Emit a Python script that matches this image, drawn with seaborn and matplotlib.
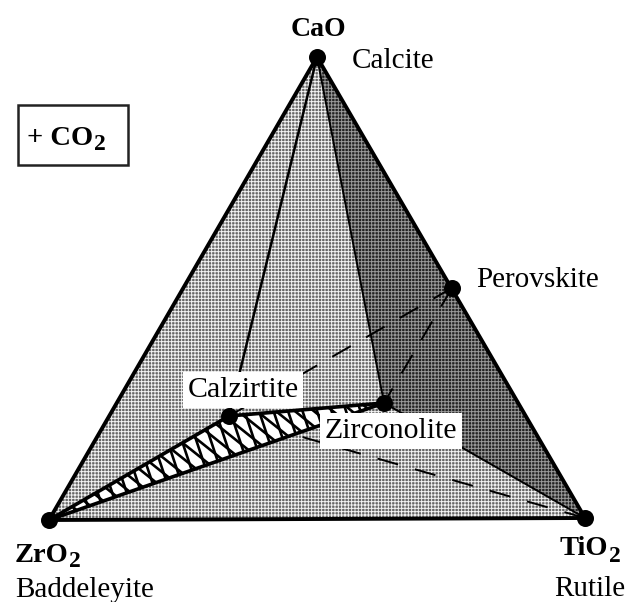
import matplotlib
matplotlib.use("Agg")
import matplotlib.pyplot as plt
from matplotlib.patches import Polygon, Rectangle
import seaborn as sns
import numpy as np
import pandas as pd

# phases, positions in pixels
phases = ["CaO", "ZrO2", "TiO2", "Perovskite", "Calzirtite", "Zirconolite"]
phase_x = [317, 49, 585, 452, 229, 384]
phase_y = [57, 520, 518, 288, 416, 403]

outer_lines = [("CaO", "ZrO2"), ("CaO", "TiO2"), ("ZrO2", "TiO2")]
inner_lines = [("CaO", "Zirconolite"), ("Zirconolite", "TiO2")]
thin_lines = [("CaO", "Calzirtite")]
dashed_lines = [("Perovskite", "Calzirtite"), ("Perovskite", "Zirconolite"), ("TiO2", "Calzirtite")]
tie_lines = [("ZrO2", "Calzirtite"), ("Calzirtite", "Zirconolite"), ("ZrO2", "Zirconolite")]

light_face = ["CaO", "ZrO2", "TiO2"]
dark_face = ["CaO", "Zirconolite", "TiO2"]
hatched_face = ["ZrO2", "Calzirtite", "Zirconolite"]

df = pd.DataFrame({"phase": phases, "x": phase_x, "y": phase_y})
pos = dict(zip(phases, zip(phase_x, phase_y)))


def face(ax, names, **kw):
    ax.fill([pos[n][0] for n in names], [pos[n][1] for n in names], linewidth=0, **kw)


def edges(ax, pairs, **kw):
    for a, b in pairs:
        seg = pd.DataFrame({"x": [pos[a][0], pos[b][0]], "y": [pos[a][1], pos[b][1]]})
        sns.lineplot(data=seg, x="x", y="y", ax=ax, sort=False, estimator=None, color="black", **kw)


def hatch_lines(ax, names, slope, step, **kw):
    # parallel lines clipped to the face, matplotlib hatches cannot take these angles
    clip = Polygon([pos[n] for n in names], closed=True, transform=ax.transData, fill=False, linewidth=0)
    ax.add_patch(clip)
    for x0 in np.arange(-300, 700, step):
        ln, = ax.plot([x0, x0 + 600], [300, 300 + 600 * slope], color="black", **kw)
        ln.set_clip_path(clip)


def formula(ax, x, y, name, x_sub, dy_sub=5, size=20.5, **kw):
    ax.text(x, y, name, fontsize=size, fontweight="bold", ha="left", va="baseline", **kw)
    ax.text(x_sub, y + dy_sub, "2", fontsize=17, fontweight="bold", ha="left", va="baseline", **kw)


sns.set_theme(style="white")
plt.rcParams["font.family"] = ["Liberation Serif", "DejaVu Serif"]
plt.rcParams["text.color"] = "black"

fig = plt.figure(figsize=(6.28, 6.02), dpi=100)
ax = fig.add_axes([0, 0, 1, 1])

plt.rcParams["hatch.linewidth"] = 0.7
face(ax, light_face, facecolor="#666666", edgecolor="#f2f2f2", hatch="+++++", zorder=1)
face(ax, dark_face, facecolor="#222222", edgecolor="#999999", hatch="+++++", zorder=2)
edges(ax, dashed_lines, linewidth=1.4, dashes=(11, 9), zorder=3)

face(ax, hatched_face, facecolor="white", zorder=4)
hatch_lines(ax, hatched_face, 3.0, 14.5, linewidth=1.9, zorder=4)
hatch_lines(ax, hatched_face, 0.8, 19, linewidth=1.9, zorder=4)

edges(ax, outer_lines, linewidth=2.8, zorder=5)
edges(ax, inner_lines, linewidth=1.4, zorder=5)
edges(ax, thin_lines, linewidth=1.8, zorder=5)
edges(ax, tie_lines, linewidth=2.6, zorder=5)

sns.scatterplot(data=df, x="x", y="y", ax=ax, color="black", s=150, linewidth=0, zorder=6, legend=False)

ax.set_xlim(0, 628)
ax.set_ylim(602, 0)
ax.axis("off")

box = dict(facecolor="white", edgecolor="none", pad=3.5)
ax.text(318, 29, "CaO", fontsize=20, fontweight="bold", ha="center", va="center")
ax.text(393, 61, "Calcite", fontsize=21, ha="center", va="center")
ax.text(538, 280, "Perovskite", fontsize=21, ha="center", va="center")
ax.text(243, 390, "Calzirtite", fontsize=21.5, ha="center", va="center", bbox=box, zorder=7)
ax.text(391, 431, "Zirconolite", fontsize=21.5, ha="center", va="center", bbox=box, zorder=5.5)
formula(ax, 15, 562, "ZrO", 69)
ax.text(85, 590, "Baddeleyite", fontsize=21, ha="center", va="center")
formula(ax, 559, 555, "TiO", 609, dy_sub=7)
ax.text(590, 589, "Rutile", fontsize=21, ha="center", va="center")
ax.add_patch(Rectangle((18, 105), 110, 60, facecolor="white", edgecolor="#222222", linewidth=1.8, zorder=6))
formula(ax, 27, 145, "+ CO", 94, zorder=7)

fig.savefig("out.png", dpi=100)
